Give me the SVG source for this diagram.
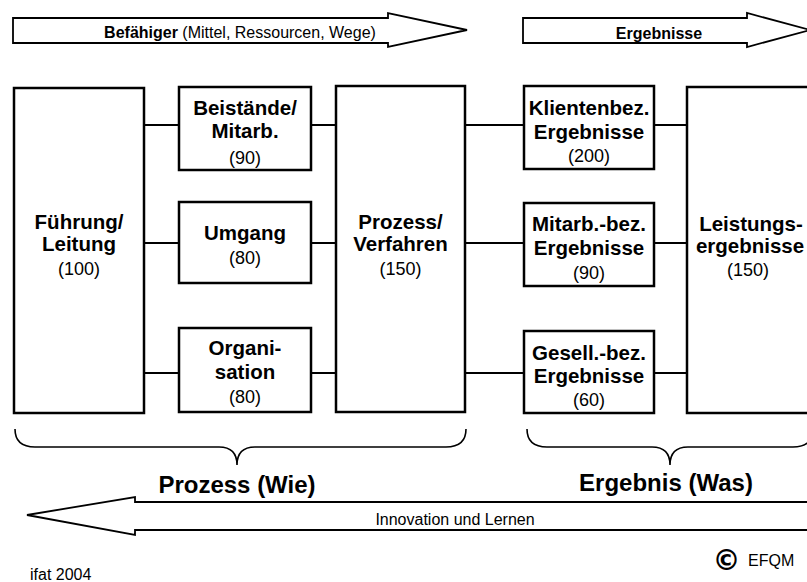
<svg xmlns="http://www.w3.org/2000/svg" width="807" height="582" viewBox="0 0 807 582">
<style>
.box{fill:#fff;stroke:#000;stroke-width:2.5}
.arr{fill:#fff;stroke:#000;stroke-width:1.8;stroke-linejoin:miter}
.con{stroke:#000;stroke-width:2;fill:none}
.br{fill:none;stroke:#000;stroke-width:1.6}
.b{font-family:"Liberation Sans",Arial,sans-serif;font-weight:bold;font-size:20.5px;text-anchor:middle;fill:#000}
.r{font-family:"Liberation Sans",Arial,sans-serif;font-size:18px;text-anchor:middle;fill:#000}
.s{font-family:"Liberation Sans",Arial,sans-serif;font-size:16px;fill:#000}
.big{font-family:"Liberation Sans",Arial,sans-serif;font-weight:bold;font-size:24px;text-anchor:middle;fill:#000}
</style>
<rect width="807" height="582" fill="#fff"/>
<g id="arrow-befaehiger">
<polygon class="arr" points="13,18 388,18 388,13 467,30 388,47 388,43 13,43"/>
<text class="s" x="240" y="38" text-anchor="middle"><tspan font-weight="bold">Befähiger</tspan> (Mittel, Ressourcen, Wege)</text>
</g>
<g id="arrow-ergebnisse">
<polygon class="arr" points="523,18 747,18 747,13 810,30 747,47 747,43 523,43"/>
<text class="s" x="659" y="39" text-anchor="middle" font-weight="bold">Ergebnisse</text>
</g>
<g id="connectors">
<line class="con" x1="144" y1="125" x2="179" y2="125"/>
<line class="con" x1="144" y1="243" x2="179" y2="243"/>
<line class="con" x1="144" y1="373" x2="179" y2="373"/>
<line class="con" x1="311" y1="125" x2="336" y2="125"/>
<line class="con" x1="311" y1="243" x2="336" y2="243"/>
<line class="con" x1="311" y1="373" x2="336" y2="373"/>
<line class="con" x1="465" y1="125" x2="524" y2="125"/>
<line class="con" x1="465" y1="243" x2="524" y2="243"/>
<line class="con" x1="465" y1="373" x2="524" y2="373"/>
<line class="con" x1="654" y1="125" x2="687" y2="125"/>
<line class="con" x1="654" y1="243" x2="687" y2="243"/>
<line class="con" x1="654" y1="373" x2="687" y2="373"/>
</g>
<g id="fuehrung">
<rect class="box" x="14" y="88" width="130" height="325"/>
<text class="b" x="79" y="229">Führung/</text>
<text class="b" x="79" y="251">Leitung</text>
<text class="r" x="79" y="275">(100)</text>
</g>
<g id="beistaende">
<rect class="box" x="179" y="87" width="132" height="83"/>
<text class="b" x="245" y="115">Beistände/</text>
<text class="b" x="245" y="138">Mitarb.</text>
<text class="r" x="245" y="164">(90)</text>
</g>
<g id="umgang">
<rect class="box" x="179" y="202" width="132" height="81"/>
<text class="b" x="245" y="240">Umgang</text>
<text class="r" x="245" y="264">(80)</text>
</g>
<g id="organisation">
<rect class="box" x="179" y="328" width="132" height="84"/>
<text class="b" x="245" y="355">Organi-</text>
<text class="b" x="245" y="379">sation</text>
<text class="r" x="245" y="403">(80)</text>
</g>
<g id="prozess">
<rect class="box" x="336" y="86" width="129" height="326"/>
<text class="b" x="400.5" y="229">Prozess/</text>
<text class="b" x="400.5" y="251">Verfahren</text>
<text class="r" x="400.5" y="275">(150)</text>
</g>
<g id="klientenbez">
<rect class="box" x="524" y="86" width="130" height="83"/>
<text class="b" x="589" y="115">Klientenbez.</text>
<text class="b" x="589" y="139">Ergebnisse</text>
<text class="r" x="589" y="162">(200)</text>
</g>
<g id="mitarbbez">
<rect class="box" x="524" y="203" width="130" height="83"/>
<text class="b" x="589" y="231">Mitarb.-bez.</text>
<text class="b" x="589" y="255">Ergebnisse</text>
<text class="r" x="589" y="279">(90)</text>
</g>
<g id="gesellbez">
<rect class="box" x="524" y="331" width="130" height="82"/>
<text class="b" x="589" y="360">Gesell.-bez.</text>
<text class="b" x="589" y="383">Ergebnisse</text>
<text class="r" x="589" y="406">(60)</text>
</g>
<g id="leistung">
<rect class="box" x="687" y="87" width="140" height="326"/>
<text class="b" x="751" y="231">Leistungs-</text>
<text class="b" x="750" y="253">ergebnisse</text>
<text class="r" x="748" y="276">(150)</text>
</g>
<g id="bracket-prozess">
<path class="br" d="M15,429 Q15,447 35,447 L219,447 Q237,447 237,465 Q237,447 255,447 L446,447 Q466,447 466,429"/>
<text class="big" x="237" y="493">Prozess (Wie)</text>
</g>
<g id="bracket-ergebnis">
<path class="br" d="M527,429 Q527,447 547,447 L652,447 Q670,447 670,465 Q670,447 688,447 L793,447 Q813,447 813,429"/>
<text class="big" x="666" y="491">Ergebnis (Was)</text>
</g>
<g id="arrow-innovation">
<polygon class="arr" points="27,515 135,497 135,502 830,502 830,530 135,530 135,535"/>
<text class="s" x="455" y="525" text-anchor="middle" font-size="15.5">Innovation und Lernen</text>
</g>
<text class="s" x="30" y="580" font-size="15">ifat 2004</text>
<text x="726.5" y="570" text-anchor="middle" font-family="'DejaVu Sans',sans-serif" font-size="28" font-weight="bold" fill="#000">©</text>
<text class="s" x="748" y="566" font-size="18">EFQM</text>
</svg>
